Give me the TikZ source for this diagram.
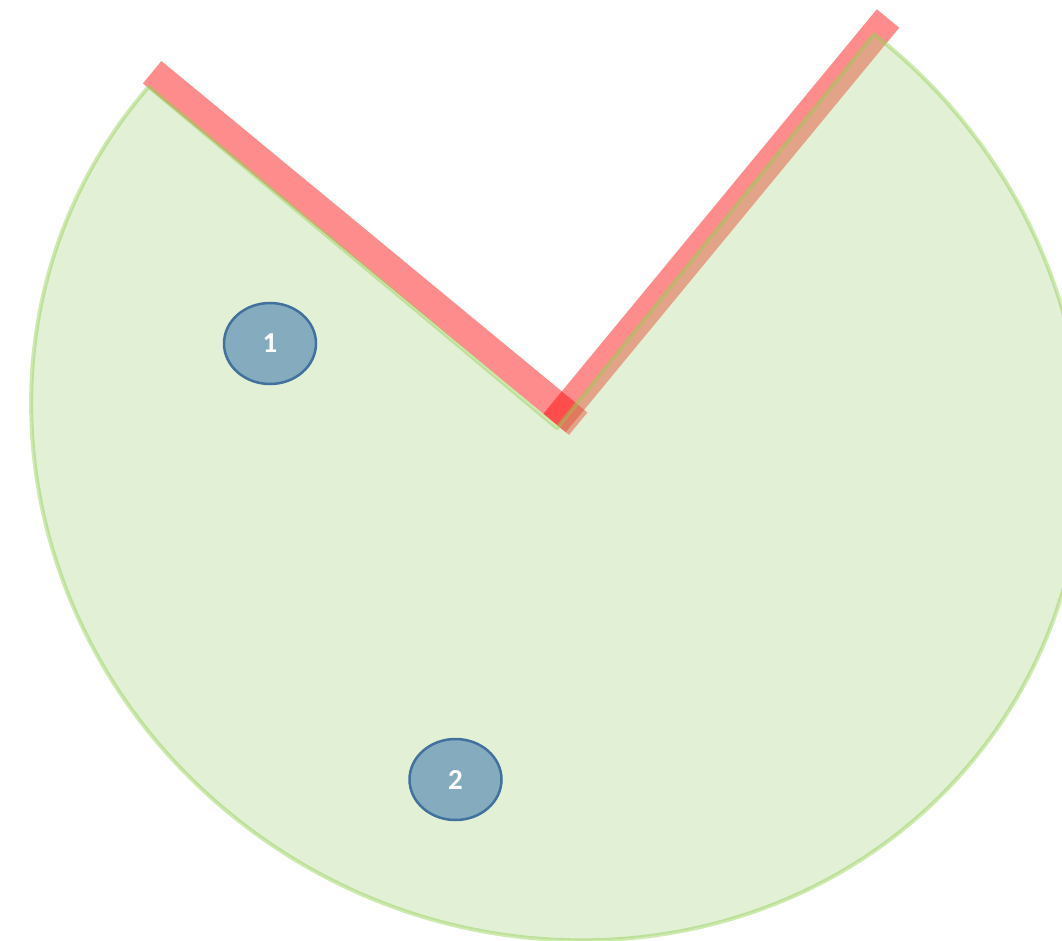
\documentclass[tikz,border=0pt]{standalone}
\usepackage{fontspec}
\setmainfont{Carlito}
\usetikzlibrary{shapes.geometric}
\definecolor{barred}{RGB}{255,0,0}
\definecolor{piefill}{RGB}{167,210,131}
\definecolor{pieline}{RGB}{146,208,80}
\definecolor{nodefill}{RGB}{133,171,190}
\definecolor{nodeline}{RGB}{65,113,156}
\tikzset{
  redbar/.style={draw=barred, draw opacity=0.45, line width=29pt, line cap=butt},
  pieshape/.style={fill=piefill, fill opacity=0.33, draw=pieline, draw opacity=0.45, line width=4pt, line join=round},
  marker/.style={ellipse, draw=nodeline, line width=2.5pt, fill=nodefill, minimum width=92pt, minimum height=81pt, inner sep=0pt, text=white, font=\bfseries\fontsize{29}{29}\selectfont}
}
\begin{document}
\begin{tikzpicture}[x=1pt,y=1pt]
\clip (0,0) rectangle (1062,-941);
\coordinate (L1) at (152.2,-72.2);
\coordinate (L2) at (578.2,-423.7);
\coordinate (R1) at (888,-18.5);
\coordinate (R2) at (554.5,-423);
\draw[redbar] (L1) -- (L2);
\draw[redbar] (R1) -- (R2);
\begin{scope}[shift={(557,-428)}, rotate=-30.6]
\draw[pieshape] (0,0) -- (170.2:533pt and 505pt) arc[start angle=170.2, end angle=442.2, x radius=533pt, y radius=505pt] -- cycle;
\end{scope}
\node[marker] (n1) at (270,-343.5) {1};
\node[marker] (n2) at (455.5,-779.5) {2};
\end{tikzpicture}
\end{document}
